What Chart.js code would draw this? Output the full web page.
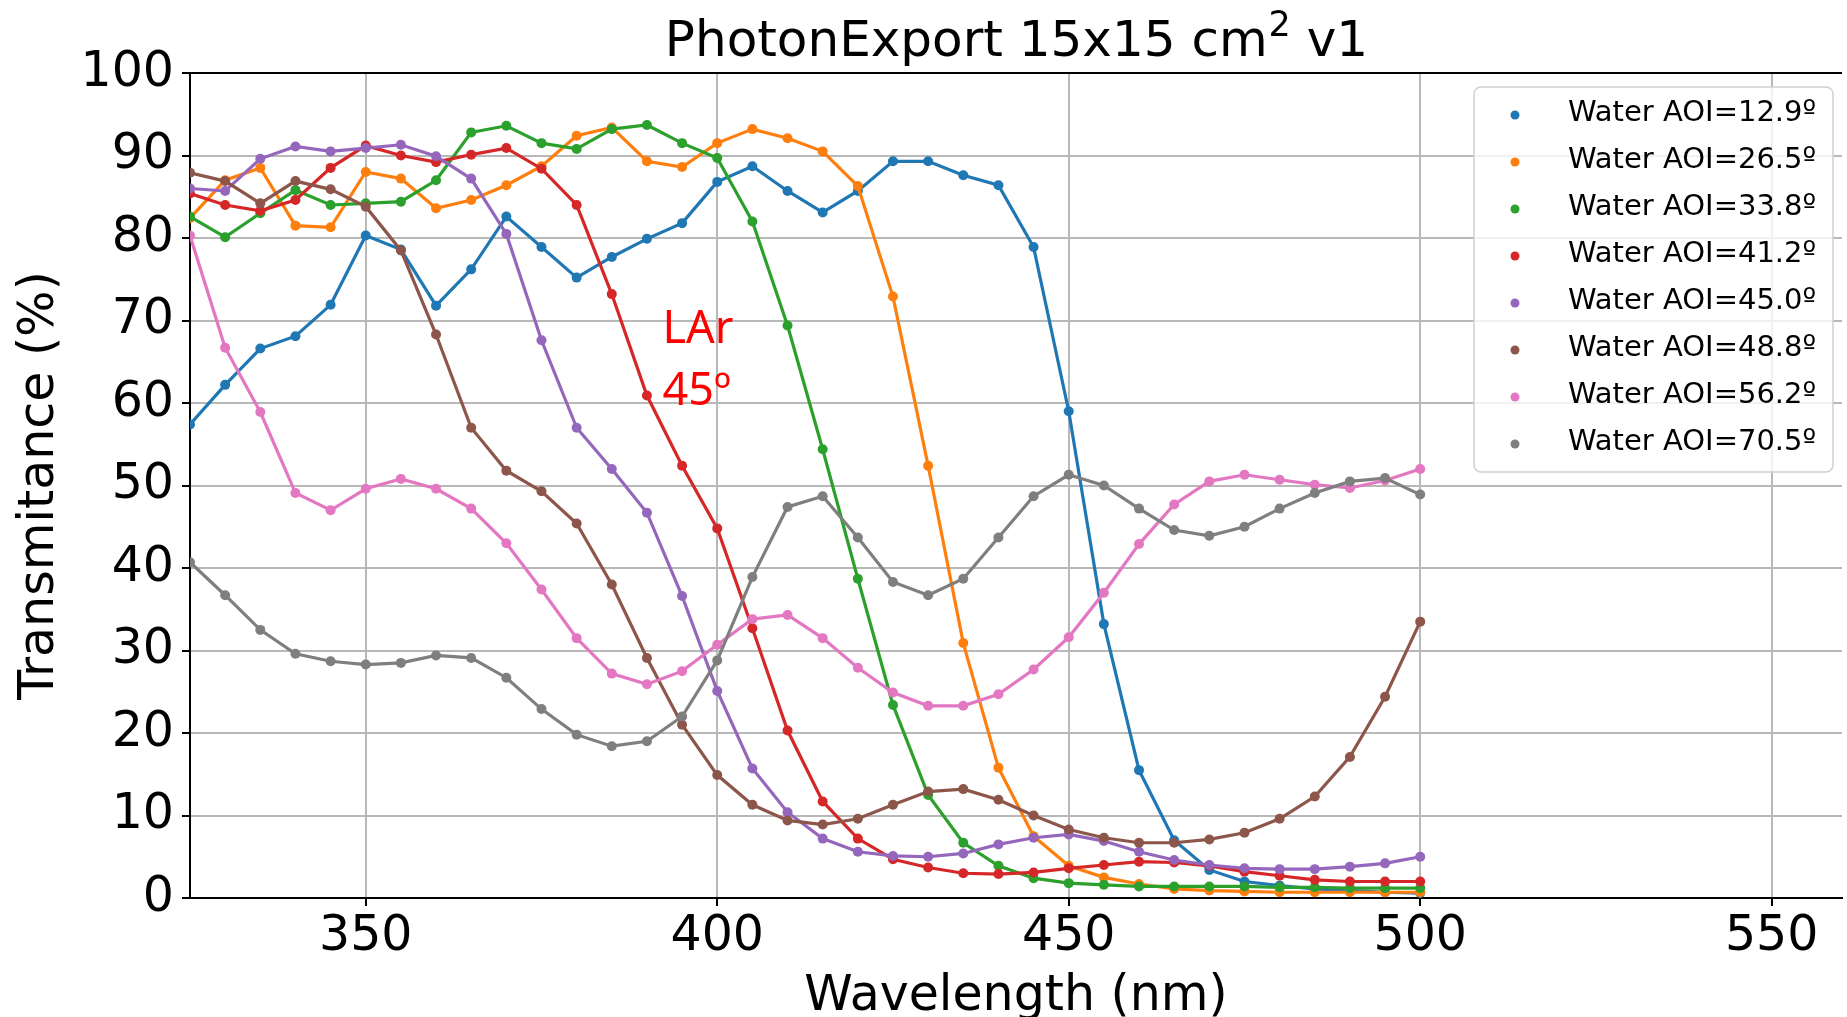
<!DOCTYPE html>
<html>
<head>
<meta charset="utf-8">
<script src="https://cdn.jsdelivr.net/npm/chart.js@4.4.0/dist/chart.umd.min.js"></script>
<style>
html,body{margin:0;padding:0;overflow:hidden;background:#fff;width:1847px;height:1017px}
#wrap{position:absolute;left:0;top:0;width:1847px;height:1060px}
</style>
</head>
<body>
<div id="wrap"><canvas id="c"></canvas></div>
<script>
// ---- data ----
const wavelengths = [325,330,335,340,345,350,355,360,365,370,375,380,385,390,395,400,405,410,415,420,425,430,435,440,445,450,455,460,465,470,475,480,485,490,495,500];
const aoi129 = [57.4,62.2,66.6,68.1,71.9,80.3,78.6,71.8,76.2,82.6,78.9,75.2,77.7,79.9,81.8,86.8,88.7,85.7,83.1,85.7,89.3,89.3,87.6,86.4,78.9,59.0,33.2,15.5,7.0,3.4,2.0,1.5,1.1,0.9,0.7,0.6];
const aoi265 = [82.4,87.0,88.5,81.5,81.3,88.0,87.2,83.6,84.6,86.4,88.7,92.4,93.4,89.3,88.6,91.5,93.2,92.1,90.5,86.3,72.9,52.4,30.9,15.8,7.5,3.9,2.5,1.7,1.1,0.9,0.8,0.7,0.7,0.7,0.7,0.7];
const aoi338 = [82.6,80.1,83.0,85.8,84.0,84.2,84.4,87.0,92.8,93.6,91.5,90.8,93.2,93.7,91.5,89.7,82.0,69.4,54.4,38.7,23.4,12.5,6.7,3.9,2.4,1.8,1.6,1.4,1.4,1.4,1.4,1.3,1.3,1.2,1.2,1.2];
const aoi412 = [85.4,84.0,83.3,84.6,88.5,91.2,90.0,89.2,90.1,90.9,88.4,84.0,73.2,60.9,52.4,44.8,32.7,20.3,11.7,7.2,4.7,3.7,3.0,2.9,3.1,3.6,4.0,4.4,4.3,3.9,3.2,2.7,2.2,2.0,2.0,2.0];
const aoi450 = [86.0,85.7,89.6,91.1,90.5,90.9,91.3,89.9,87.2,80.5,67.6,57.0,52.0,46.7,36.6,25.1,15.7,10.4,7.2,5.6,5.1,5.0,5.4,6.5,7.3,7.7,6.9,5.6,4.6,4.0,3.6,3.5,3.5,3.8,4.2,5.0];
const aoi488 = [87.9,86.9,84.2,86.9,85.9,83.8,78.5,68.3,57.0,51.8,49.3,45.4,38.0,29.1,21.0,14.9,11.3,9.4,8.9,9.6,11.3,12.9,13.2,11.9,10.0,8.3,7.3,6.7,6.7,7.1,7.9,9.6,12.3,17.1,24.4,33.5];
const aoi562 = [80.3,66.7,58.9,49.1,47.0,49.6,50.8,49.6,47.2,43.0,37.4,31.5,27.2,25.9,27.5,30.7,33.8,34.3,31.5,27.9,24.9,23.3,23.3,24.7,27.7,31.6,37.0,42.9,47.7,50.5,51.3,50.7,50.1,49.7,50.6,52.0];
const aoi705 = [40.7,36.7,32.5,29.6,28.7,28.3,28.5,29.4,29.1,26.7,22.9,19.8,18.4,19.0,22.0,28.8,38.9,47.4,48.7,43.7,38.3,36.7,38.7,43.7,48.7,51.3,50.0,47.2,44.6,43.9,45.0,47.2,49.1,50.5,50.9,48.9];
const seriesLabels = ['Water AOI=12.9º','Water AOI=26.5º','Water AOI=33.8º','Water AOI=41.2º','Water AOI=45.0º','Water AOI=48.8º','Water AOI=56.2º','Water AOI=70.5º'];
const seriesValues = [aoi129, aoi265, aoi338, aoi412, aoi450, aoi488, aoi562, aoi705];
const seriesColors = ['#1f77b4','#ff7f0e','#2ca02c','#d62728','#9467bd','#8c564b','#e377c2','#7f7f7f'];
const xTicks = [350,400,450,500,550];
const yTicks = [0,10,20,30,40,50,60,70,80,90,100];
const titleMain = 'PhotonExport 15x15 cm';
const titleSup = '2';
const titleTail = ' v1';
const xTitle = 'Wavelength (nm)';
const yTitle = 'Transmitance (%)';
const annotationLines = ['LAr','45º'];
const annotationX = 392.2;
const annotationY = [67.3, 59.8];

// ---- plugins ----
const titlePlugin = {
  id: 'supTitle',
  afterDraw(chart) {
    const {ctx, chartArea: a} = chart;
    ctx.save();
    ctx.fillStyle = '#000';
    ctx.textBaseline = 'alphabetic';
    ctx.textAlign = 'left';
    const mainFont = '50px "DejaVu Sans"';
    const supFont = '35px "DejaVu Sans"';
    ctx.font = mainFont;
    const w1 = ctx.measureText(titleMain).width;
    const w3 = ctx.measureText(titleTail).width;
    ctx.font = supFont;
    const w2 = ctx.measureText(titleSup).width;
    const total = w1 + w2 + w3;
    let x = (a.left + a.right) / 2 - total / 2;
    const base = 56;
    ctx.font = mainFont;
    ctx.fillText(titleMain, x, base);
    x += w1;
    ctx.font = supFont;
    ctx.fillText(titleSup, x + 1, base - 20);
    x += w2 + 1;
    ctx.font = mainFont;
    ctx.fillText(titleTail, x, base);
    ctx.restore();
  }
};

const framePlugin = {
  id: 'frame',
  afterDraw(chart) {
    const {ctx, chartArea: a} = chart;
    ctx.save();
    ctx.strokeStyle = '#000';
    ctx.lineWidth = 2;
    ctx.beginPath();
    ctx.moveTo(a.left - 1, a.top);
    ctx.lineTo(a.right, a.top);
    ctx.stroke();
    ctx.restore();
  }
};

const annotationPlugin = {
  id: 'larNote',
  afterDatasetsDraw(chart) {
    const {ctx, scales: {x, y}} = chart;
    ctx.save();
    ctx.font = '45px "Noto Sans"';
    ctx.fillStyle = '#ff0000';
    ctx.textBaseline = 'alphabetic';
    ctx.textAlign = 'left';
    annotationLines.forEach((t, i) => {
      ctx.fillText(t, x.getPixelForValue(annotationX), y.getPixelForValue(annotationY[i]));
    });
    ctx.restore();
  }
};

const legendPlugin = {
  id: 'mplLegend',
  afterDraw(chart) {
    const {ctx} = chart;
    const bx = 1474, by = 87, bw = 359, bh = 385, r = 7;
    ctx.save();
    ctx.beginPath();
    ctx.moveTo(bx + r, by);
    ctx.arcTo(bx + bw, by, bx + bw, by + bh, r);
    ctx.arcTo(bx + bw, by + bh, bx, by + bh, r);
    ctx.arcTo(bx, by + bh, bx, by, r);
    ctx.arcTo(bx, by, bx + bw, by, r);
    ctx.closePath();
    ctx.fillStyle = 'rgba(255,255,255,0.8)';
    ctx.fill();
    ctx.strokeStyle = '#d0d0d0';
    ctx.lineWidth = 1.5;
    ctx.stroke();
    ctx.font = '29px "DejaVu Sans"';
    ctx.textBaseline = 'middle';
    ctx.textAlign = 'left';
    chart.data.datasets.forEach((ds, i) => {
      const cy = 115 + i * 47;
      ctx.fillStyle = ds.backgroundColor;
      ctx.beginPath();
      ctx.arc(1515, cy, 4.5, 0, Math.PI * 2);
      ctx.fill();
      ctx.fillStyle = '#000';
      ctx.fillText(ds.label, 1568, cy - 2);
    });
    ctx.restore();
  }
};

// ---- chart ----
const datasets = seriesValues.map((vals, i) => ({
  label: seriesLabels[i],
  data: wavelengths.map((w, j) => ({x: w, y: vals[j]})),
  borderColor: seriesColors[i],
  backgroundColor: seriesColors[i],
  borderWidth: 3.2,
  pointRadius: 5,
  pointBorderWidth: 0,
  pointHoverRadius: 5,
  tension: 0,
  order: seriesValues.length - i
}));

new Chart(document.getElementById('c'), {
  type: 'line',
  data: {datasets},
  options: {
    responsive: true,
    maintainAspectRatio: false,
    animation: false,
    events: [],
    layout: {padding: {top: 73, left: 0, right: 0, bottom: 0}},
    plugins: {
      legend: {display: false},
      tooltip: {enabled: false},
      title: {display: false}
    },
    scales: {
      x: {
        type: 'linear',
        min: 325,
        max: 560,
        afterBuildTicks: s => { s.ticks = xTicks.map(v => ({value: v})); },
        afterFit: s => { s.height = 162; },
        ticks: {
          color: '#000',
          font: {family: 'DejaVu Sans', size: 49},
          padding: 2,
          maxRotation: 0,
          autoSkip: false,
          callback: v => String(v)
        },
        grid: {color: '#b8b8b8', lineWidth: 2, tickColor: '#000', tickLength: 8, tickWidth: 2},
        border: {display: true, color: '#000', width: 2},
        title: {
          display: true,
          text: xTitle,
          color: '#000',
          font: {family: 'DejaVu Sans', size: 49, lineHeight: 1.2},
          padding: {top: 33, bottom: 33}
        }
      },
      y: {
        type: 'linear',
        min: 0,
        max: 100,
        afterBuildTicks: s => { s.ticks = yTicks.map(v => ({value: v})); },
        afterFit: s => { s.width = 190; },
        ticks: {
          color: '#000',
          font: {family: 'DejaVu Sans', size: 49},
          padding: 8,
          autoSkip: false,
          callback: v => String(v)
        },
        grid: {color: '#b8b8b8', lineWidth: 2, tickColor: '#000', tickLength: 8, tickWidth: 2},
        border: {display: true, color: '#000', width: 2},
        title: {
          display: true,
          text: yTitle,
          color: '#000',
          font: {family: 'DejaVu Sans', size: 49, lineHeight: 1.2},
          padding: {top: 11, bottom: 11}
        }
      }
    }
  },
  plugins: [framePlugin, annotationPlugin, legendPlugin, titlePlugin]
});
</script>
</body>
</html>
